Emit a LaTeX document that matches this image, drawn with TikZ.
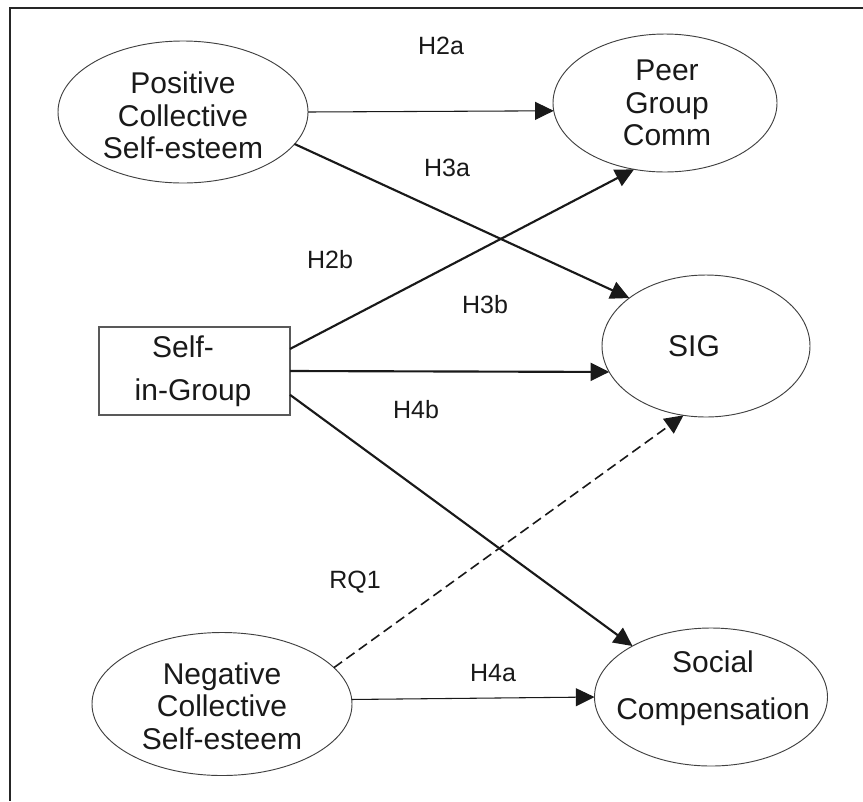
\documentclass[tikz,border=0pt]{standalone}
\usepackage{fontspec}
\setmainfont{Liberation Sans}
\usetikzlibrary{arrows.meta,shapes.geometric}
\begin{document}
\begin{tikzpicture}[x=0.75pt,y=-0.75pt,
  ell/.style={ellipse, draw=black!75, line width=0.7pt, inner sep=0pt, outer sep=0pt},
  txt/.style={align=center, font=\fontsize{22.5}{24.4}\selectfont, inner sep=0pt, text=black!90},
  lab/.style={font=\fontsize{18.75}{20}\selectfont, inner sep=0pt, text=black!90},
  tip/.style={-{Triangle[length=14pt,width=13.5pt]}},
  lightarrow/.style={tip, line width=0.8pt, draw=black!90},
  heavyarrow/.style={tip, line width=1.6pt, draw=black!90},
  dasharrow/.style={tip, line width=1.2pt, draw=black!90, dash pattern=on 7.5pt off 4pt},
]
\useasboundingbox (0,0) rectangle (863,801);
% frame
\coordinate (ftl) at (10,8);
\coordinate (ftr) at (863,8);
\coordinate (fbl) at (10,801);
\draw[line width=1.1pt, black!85] (ftr) -- (ftl) -- (fbl);

% nodes
\node[ell, minimum width=187.5pt, minimum height=106.5pt,
  label={[txt, yshift=-2.6pt]center:Positive\\Collective\\Self-esteem}] (pos) at (183,112) {};
\node[ell, minimum width=168pt, minimum height=103.5pt,
  label={[txt, xshift=1.5pt]center:Peer\\Group\\Comm}] (peer) at (665,103) {};
\node[ell, minimum width=156pt, minimum height=106.5pt,
  label={[txt, xshift=-9pt]center:SIG}] (sig) at (706,346) {};
\node[ell, minimum width=195pt, minimum height=107.25pt,
  label={[txt, yshift=-1.5pt]center:Negative\\Collective\\Self-esteem}] (neg) at (222,704) {};
\node[ell, minimum width=174.75pt, minimum height=103.5pt,
  label={[txt, xshift=1.5pt, yshift=6.4pt]center:Social\\[10.6pt]Compensation}] (soc) at (711,697) {};
\node[draw=black!65, line width=0.9pt, minimum width=143.25pt, minimum height=66pt,
  inner sep=0pt, outer sep=0pt,
  label={[txt, xshift=-8.6pt, yshift=18pt]center:Self-},
  label={[txt, xshift=-1.1pt, yshift=-16.5pt]center:in-Group}] (box) at (194.5,371) {};

% connectors
\draw[lightarrow] (pos.east) -- (peer.184);
\draw[heavyarrow] (pos.-16) -- (sig.148);
\draw[heavyarrow] (box.13) -- (peer.245);
\draw[heavyarrow] (box.east) -- (sig.195);
\draw[heavyarrow] (box.-14) -- (soc.147);
\draw[dasharrow] (neg.18) -- (sig.252);
\draw[lightarrow] (neg.2) -- (soc.west);

% labels
\node[lab] (h2a) at (441,46) {H2a};
\node[lab] (h3a) at (447,168) {H3a};
\node[lab] (h2b) at (330,260) {H2b};
\node[lab] (h3b) at (485,305) {H3b};
\node[lab] (h4b) at (416,410) {H4b};
\node[lab] (rq1) at (355,582) {RQ1};
\node[lab] (h4a) at (493,673) {H4a};
\end{tikzpicture}
\end{document}
